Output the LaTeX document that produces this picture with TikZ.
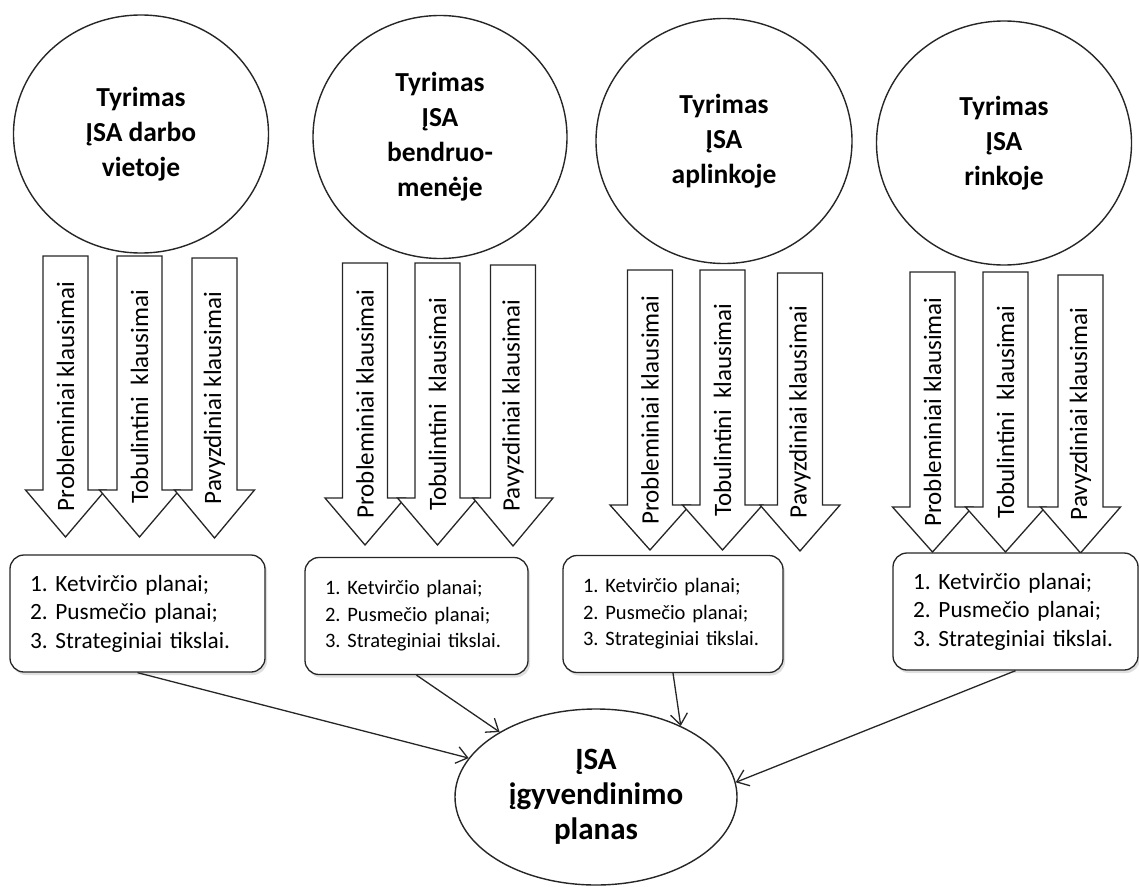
\documentclass[tikz,border=0pt]{standalone}
\usepackage{fontspec}
\setmainfont{Carlito}
\usetikzlibrary{arrows.meta,shadows,shapes.geometric}

\tikzset{
  study/.style={ellipse, draw=black!85, line width=1.4pt, fill=white, inner sep=0pt,
    align=center, font=\bfseries\fontsize{27.5}{35}\selectfont},
  goal/.style={study, font=\bfseries\fontsize{31}{35}\selectfont},
  qshape/.style={draw=black!85, line width=1.3pt, fill=white, line join=miter},
  qlabel/.style={rotate=90, inner sep=0pt, font=\fontsize{25}{30}\selectfont},
  planbox/.style={draw=black!85, line width=1.3pt, fill=white, rounded corners=14pt,
    align=left, inner xsep=20pt, inner ysep=0pt, minimum height=117pt,
    drop shadow={shadow xshift=2pt, shadow yshift=-3pt, opacity=0.25}},
  bigplan/.style={planbox, font=\frenchspacing\fontsize{23.3}{28.5}\selectfont},
  smallplan/.style={planbox, font=\frenchspacing\fontsize{20.5}{26.5}\selectfont},
  link/.style={draw=black!85, line width=1.3pt, -{Straight Barb[length=11pt,width=17pt]}},
}

% block arrow pointing down: name, centre x, top y, head top y, tip y, label
\newcommand{\qarrow}[6]{%
  \draw[qshape] ({#2-22.5},#3) -- ({#2+22.5},#3) -- ({#2+22.5},#4) -- ({#2+40},#4)
    -- (#2,#5) -- ({#2-40},#4) -- ({#2-22.5},#4) -- cycle;
  \node[qlabel] (#1) at (#2,{(#3+#5)/2}) {#6};
}

\newcommand{\plantext}{\mbox{1. Ketvirčio planai;}\\\mbox{2. Pusmečio planai;}\\\mbox{3. Strateginiai tikslai.}}

\begin{document}
\begin{tikzpicture}[x=1pt,y=-1pt]
\useasboundingbox (0,0) rectangle (1139,886);

% research areas
\node[study, minimum width=255pt, minimum height=238pt] (s1) at (141,134) {Tyrimas\\ĮSA darbo\\vietoje};
\node[study, minimum width=254pt, minimum height=243pt] (s2) at (440,137) {Tyrimas\\ĮSA\\bendruo-\\menėje};
\node[study, minimum width=256pt, minimum height=245pt] (s3) at (724,141) {Tyrimas\\ĮSA\\aplinkoje};
\node[study, minimum width=255pt, minimum height=244pt] (s4) at (1004,143) {Tyrimas\\ĮSA\\rinkoje};

% question arrows
\qarrow{a11}{65.5}{256}{490}{537}{Probleminiai klausimai}
\qarrow{a12}{139.5}{256}{490}{537}{Tobulintini~ klausimai}
\qarrow{a13}{214.5}{258}{490}{538}{Pavyzdiniai klausimai}

\qarrow{a21}{365}{263}{498}{545}{Probleminiai klausimai}
\qarrow{a22}{437.5}{263}{498}{545}{Tobulintini~ klausimai}
\qarrow{a23}{513}{265}{498}{546}{Pavyzdiniai klausimai}

\qarrow{a31}{650}{270}{505}{550}{Probleminiai klausimai}
\qarrow{a32}{722.5}{270}{505}{550}{Tobulintini~ klausimai}
\qarrow{a33}{800}{273}{505}{551}{Pavyzdiniai klausimai}

\qarrow{a41}{932.5}{272}{507}{552}{Probleminiai klausimai}
\qarrow{a42}{1005.5}{272}{507}{552}{Tobulintini~ klausimai}
\qarrow{a43}{1080.5}{275}{507}{553}{Pavyzdiniai klausimai}

% plan boxes
\node[bigplan, text width=215pt] (p1) at (137.5,613.5) {\plantext};
\node[smallplan, text width=183pt] (p2) at (416.5,616) {\plantext};
\node[smallplan, text width=180pt] (p3) at (673,614) {\plantext};
\node[bigplan, text width=205pt] (p4) at (1015.5,611.5) {\plantext};

% implementation plan
\node[goal, minimum width=282pt, minimum height=176pt] (e) at (596,797) {ĮSA\\įgyvendinimo\\planas};

\draw[link] (p1.south) -- (e.163);
\draw[link] (p2.south) -- (e.146);
\draw[link] (p3.south) -- (e.40);
\draw[link] (p4.south) -- (e.6);
\end{tikzpicture}
\end{document}
